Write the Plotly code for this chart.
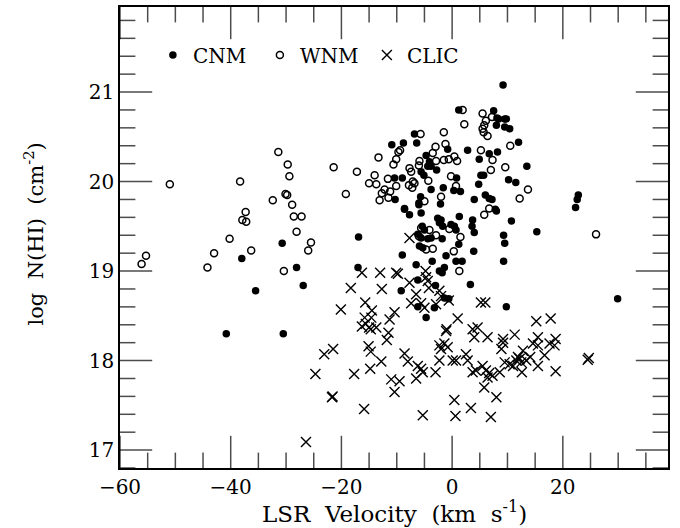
import numpy as np
import plotly.graph_objects as go

# ---- data (LSR velocity km/s, log N(HI)) ----
cnm_v = [-40.8, -30.5, -38.0, -35.5, -30.7, -28.1, -26.9, -16.9, -17.0,
         -6.8, -10.9, -8.8, -6.4, -0.8, 2.8, -4.7, -4.1, -3.8, -4.4, -2.8, -5.6, -5.1,
         -10.4, -9.0, 0.8, -3.8, -1.6, 0.3, 1.5, -10.3, -5.7, -6.0, -8.6, 4.0,
         9.2, 1.2, 7.5, 8.1, 8.4, 9.5, 9.8, 8.0, 9.5, 10.4, 12.0, 6.7, 8.2, 4.9, 13.5,
         5.2, 5.7, 4.8, 10.2, 11.5, 6.0, 6.7, 7.2, 7.8, 22.8, 22.6, 22.3,
         -8.6, -7.7, -6.0, -5.6, -2.1, -2.6, -2.0, -2.3, -1.7, 1.3, -0.2, 0.4, 0.7,
         -5.4, -5.0, -6.2, -5.6, -4.4, -3.8, -1.8, -5.9, -5.3, -3.6, -1.1, 1.2, 3.9,
         -9.0, -6.5, -2.3, -1.8, -1.4, 0.7, 1.8, -6.2, -3.0, -9.2, -1.4, -0.6, -6.2,
         -3.2, -4.7, 3.3, 8.0, 3.7, 3.6, 4.0, 10.7, 15.3, 9.3, 9.5, 9.3, 9.8, 29.9]
cnm_n = [18.30, 18.30, 19.14, 18.78, 19.31, 19.04, 18.84, 19.38, 19.04,
         20.53, 20.41, 20.43, 20.43, 20.36, 20.35, 20.29, 20.22, 20.17, 20.17, 20.13, 20.11, 20.07,
         20.04, 20.04, 20.04, 19.91, 19.93, 19.90, 19.89, 19.80, 19.83, 19.76, 19.70, 19.80,
         21.08, 20.80, 20.79, 20.71, 20.70, 20.70, 20.70, 20.63, 20.61, 20.59, 20.44, 20.31, 20.33, 20.25, 20.17,
         20.07, 20.07, 19.97, 20.02, 19.99, 19.85, 19.81, 19.80, 19.69, 19.85, 19.80, 19.71,
         19.69, 19.63, 19.74, 19.65, 19.75, 19.59, 19.57, 19.54, 19.50, 19.61, 19.52, 19.50, 19.46,
         19.50, 19.46, 19.41, 19.37, 19.36, 19.37, 19.36, 19.28, 19.26, 19.11, 19.17, 19.30, 19.22,
         19.18, 19.07, 19.00, 18.98, 19.04, 19.11, 19.11, 18.90, 18.84, 18.78, 18.70, 18.69, 18.60,
         18.59, 18.48, 18.85, 19.67, 19.57, 19.50, 19.43, 19.56, 19.44, 19.40, 19.31, 19.11, 18.60, 18.69]

wnm_v = [-56.1, -55.3, -51.0, -44.2, -43.0, -40.2, -38.3, -37.9, -37.3, -37.2, -36.3,
         -31.4, -32.4, -30.4, -30.1, -29.8, -29.7, -29.4, -28.9, -28.6, -27.2, -28.1, -25.5, -26.0,
         -21.4, -19.2, -17.2, -13.3, -14.0, -15.0, -13.7,
         2.2, -1.5, -5.7, -1.2, -3.0, -9.4, -9.7, -10.1, -10.6, -3.5, -1.5, -0.6, 0.4, 0.9,
         -2.9, -6.0, -7.7, -7.4, -11.6, -10.1, -12.2, -12.7, -11.2, -11.5, -13.1,
         -7.1, -6.8, -7.8, -7.2, -4.3, -0.2, 0.7, -2.0, -5.0, -5.9, 1.9,
         5.5, 6.1, 5.8, 5.5, 5.7, 6.4, 7.2, 5.2, 7.3, 10.5, 7.0, 9.6, 13.7, 12.2, 6.7,
         -5.6, -6.0, -4.1, -2.9, -0.5, 1.5, -4.7, -3.5, 0.3, 1.3, 5.8, 26.0]
wnm_n = [19.08, 19.17, 19.97, 19.04, 19.20, 19.36, 20.00, 19.57, 19.66, 19.55, 19.23,
         20.33, 19.79, 19.00, 19.86, 19.85, 20.19, 20.06, 19.74, 19.61, 19.61, 19.44, 19.32, 19.23,
         20.16, 19.86, 20.11, 20.27, 20.07, 19.98, 19.97,
         20.64, 20.55, 20.53, 20.42, 20.39, 20.35, 20.33, 20.25, 20.19, 20.32, 20.24, 20.25, 20.28, 20.23,
         20.23, 20.18, 20.15, 20.11, 20.03, 19.95, 19.91, 19.87, 19.89, 19.82, 19.79,
         20.00, 19.98, 19.96, 19.93, 20.01, 20.06, 19.95, 19.83, 19.78, 20.23, 20.80,
         20.76, 20.68, 20.63, 20.59, 20.55, 20.51, 20.72, 20.35, 20.24, 20.40, 20.13, 20.16, 19.91, 19.81, 19.70,
         19.48, 19.39, 19.46, 19.40, 19.47, 19.38, 19.24, 19.25, 19.22, 19.00, 19.63, 19.41]

clic_v = [-26.4, -24.7, -23.1, -21.5, -21.7, -21.6, -20.1, -18.3, -17.7, -16.3, -13.0, -10.1,
          -12.7, -15.7, -14.5, -14.6, -15.8, -16.3, -15.0, -13.7, -10.4, -11.3, -11.5,
          -15.6, -14.7, -11.8, -15.1, -14.7, -14.8, -12.8, -11.0, -10.4, -15.9,
          -9.5, -8.6, -8.0, -6.2, -6.5, -5.3, -5.6, -5.3, -3.0, -2.3, -1.4, -0.8, -2.0, -2.3,
          -1.1, 0.1, 0.7, 0.4, 0.6, 2.5, 2.8, 3.4, 3.7, 4.3, 4.0, 6.4, 5.5, 6.1, 6.7, 7.3,
          6.4, 5.8, 7.0, 8.0, 8.6, 9.5, 8.9, 9.2, 11.3, 10.4, 11.0, 11.9, 11.6, 12.2, 12.8,
          12.5, 13.4, 12.6, 14.6, 15.5, 15.5, 14.1, 16.7, 15.5, 17.6, 18.7, 18.5, 18.7,
          24.5, 24.7,
          -7.7, -9.8, -4.8, -4.7, -4.4, -7.7, -6.5, -4.2, -2.3, -2.0, -0.6, -2.9, -5.6,
          -7.4, -5.0, 1.0, -1.0, 3.7, 4.6, 5.2, 6.0, 15.2, 17.8, 9.2]
clic_n = [17.09, 17.85, 18.07, 18.13, 17.59, 17.60, 18.57, 18.81, 17.85, 18.98, 18.98, 18.98,
          18.80, 18.65, 18.56, 18.48, 18.48, 18.38, 18.37, 18.37, 18.54, 18.46, 18.31,
          18.41, 18.35, 18.23, 18.16, 18.10, 17.91, 17.99, 17.79, 17.65, 17.46,
          17.77, 18.08, 17.99, 17.94, 17.80, 17.87, 17.91, 17.39, 17.87, 18.17, 18.19, 18.15, 18.13, 18.00,
          18.33, 18.00, 18.00, 17.56, 17.38, 18.07, 18.00, 17.47, 17.87, 17.89, 18.26, 18.26, 17.94, 17.89, 17.86, 17.83,
          17.81, 17.70, 17.37, 17.59, 17.87, 17.98, 18.13, 18.20, 18.29, 17.96, 17.94, 18.04, 18.00, 18.02, 18.11,
          17.98, 18.00, 17.87, 18.19, 18.26, 18.17, 18.04, 18.06, 17.94, 18.19, 18.24, 18.17, 17.88,
          18.01, 18.03,
          19.37, 18.97, 19.00, 18.93, 18.89, 18.87, 18.74, 18.81, 18.78, 18.72, 18.67, 18.63, 18.64,
          18.64, 18.59, 18.47, 18.35, 18.35, 18.37, 18.65, 18.65, 18.44, 18.47, 18.24]

FONT = "DejaVu Serif"
X_RANGE = [-60, 39]
Y_RANGE = [16.8, 21.95]
X_MAJOR, X_MINOR = 20, 5
Y_MAJOR, Y_MINOR = 1, 0.2
MAJOR_LEN, MINOR_LEN = 23, 11          # inside tick lengths in pixels

fig = go.Figure()
fig.add_trace(go.Scatter(x=cnm_v, y=cnm_n, mode="markers", name="CNM",
                         marker=dict(symbol="circle", size=7.5, color="black",
                                     line=dict(width=0))))
fig.add_trace(go.Scatter(x=wnm_v, y=wnm_n, mode="markers", name="WNM",
                         marker=dict(symbol="circle-open", size=7, color="black",
                                     line=dict(width=1.5))))
fig.add_trace(go.Scatter(x=clic_v, y=clic_n, mode="markers", name="CLIC",
                         marker=dict(symbol="x-thin-open", size=10, color="black",
                                     line=dict(width=1.4, color="black"))))


# ---- inside tick marks on all four sides: line markers centred on the frame,
#      the outer half is clipped away by the plot area ----
def ticks_on(lo, hi, step):
    vals = np.arange(np.ceil(lo / step - 1e-9) * step, hi + 1e-9, step)
    return [round(float(v), 6) for v in vals]


def is_major(v, step):
    return abs(v / step - round(v / step)) < 1e-6


xt = ticks_on(*X_RANGE, X_MINOR)
xs = [2 * (MAJOR_LEN if is_major(v, X_MAJOR) else MINOR_LEN) for v in xt]
yt = ticks_on(*Y_RANGE, Y_MINOR)
ys = [2 * (MAJOR_LEN if is_major(v, Y_MAJOR) else MINOR_LEN) for v in yt]

tick_style = dict(color="black", line=dict(color="black", width=1.5))
for edge in Y_RANGE:
    fig.add_trace(go.Scatter(x=xt, y=[edge] * len(xt), mode="markers", showlegend=False,
                             hoverinfo="skip", cliponaxis=True,
                             marker=dict(symbol="line-ns-open", size=xs, **tick_style)))
for edge in X_RANGE:
    fig.add_trace(go.Scatter(x=[edge] * len(yt), y=yt, mode="markers", showlegend=False,
                             hoverinfo="skip", cliponaxis=True,
                             marker=dict(symbol="line-ew-open", size=ys, **tick_style)))

tickfont = dict(family=FONT, size=20, color="black")
fig.update_xaxes(range=X_RANGE, tick0=0, dtick=X_MAJOR, showgrid=False, zeroline=False,
                 showline=True, mirror=True, linecolor="black", linewidth=1.5,
                 ticks="", tickfont=tickfont)
fig.update_yaxes(range=Y_RANGE, tick0=0, dtick=Y_MAJOR, showgrid=False, zeroline=False,
                 showline=True, mirror=True, linecolor="black", linewidth=1.5,
                 ticks="", tickfont=tickfont)

annotations = [
    dict(text="LSR  Velocity  (km  s<sup>-1</sup>)", xref="paper", yref="paper",
         x=0.5, y=0, xanchor="center", yanchor="middle", yshift=-44, showarrow=False,
         font=dict(family=FONT, size=23, color="black")),
    dict(text="log  N(HI)  (cm<sup>-2</sup>)", xref="paper", yref="paper",
         x=0, y=0.5065, xanchor="center", yanchor="middle", xshift=-86, textangle=-90,
         showarrow=False, font=dict(family=FONT, size=21, color="black")),
]

fig.update_layout(
    width=680, height=528,
    margin=dict(l=120, r=12, t=5, b=60),
    paper_bgcolor="white", plot_bgcolor="white",
    annotations=annotations,
    showlegend=True,
    legend=dict(orientation="h", x=0.06, y=0.896, xanchor="left", yanchor="middle",
                font=dict(family=FONT, size=20, color="black"),
                bgcolor="rgba(0,0,0,0)", entrywidth=62, entrywidthmode="pixels",
                itemsizing="trace"),
)

fig.write_html("out.html")
